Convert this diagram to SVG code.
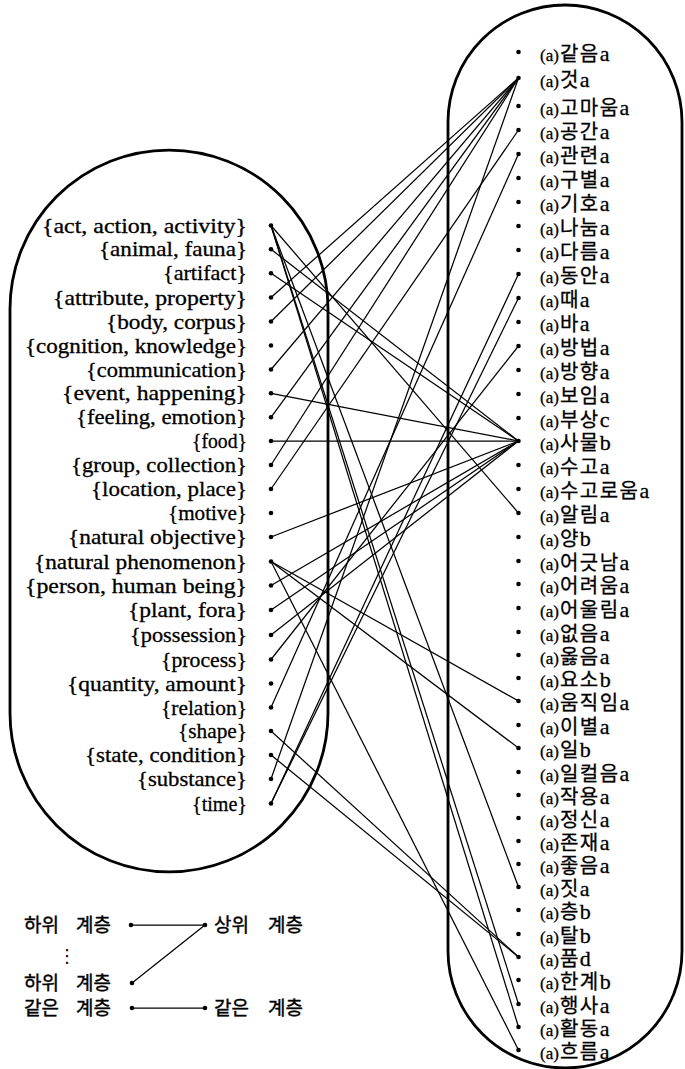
<svg xmlns="http://www.w3.org/2000/svg" width="685" height="1069" viewBox="0 0 685 1069">
<style>
.frame{fill:none;stroke:#000;stroke-width:2.8}
.lab{font-family:"Liberation Serif",serif;font-size:21px;fill:#000;stroke:#000;stroke-width:0.3}
.r{font-family:"Liberation Serif",serif;fill:#000;stroke:#000;stroke-width:0.3}
.p{font-family:"Liberation Serif",serif;font-size:17px}
.kr{font-family:"Liberation Sans","Noto Sans CJK KR",sans-serif;font-size:20px;letter-spacing:1.5px}
.s{font-family:"Liberation Serif",serif;font-size:22px}
.lg{font-family:"Liberation Sans","Noto Sans CJK KR",sans-serif;font-size:19px;fill:#000;stroke:#000;stroke-width:0.4}
.dot{fill:#000}
#connectors line,#legend line{stroke:#000;stroke-width:1.25}
</style>
<rect width="685" height="1069" fill="#fff"/>
<g id="frames">
<path id="frame-left" class="frame" d="M10,309 A159,159 0 0 1 328,309 L328,713 A159,159 0 0 1 10,713 Z"/>
<path id="frame-right" class="frame" d="M448,122 A117,117 0 0 1 682,122 L682,951 A117,117 0 0 1 448,951 Z"/>
</g>
<g id="connectors">
<line x1="271" y1="225.5" x2="518.5" y2="513"/>
<line x1="271" y1="225.5" x2="518.5" y2="887"/>
<line x1="271" y1="225.5" x2="518.5" y2="1004"/>
<line x1="271" y1="225.5" x2="518.5" y2="1027"/>
<line x1="271" y1="249.3" x2="518.5" y2="441"/>
<line x1="271" y1="273.3" x2="518.5" y2="441"/>
<line x1="271" y1="297.5" x2="518.5" y2="78"/>
<line x1="271" y1="321.5" x2="518.5" y2="78"/>
<line x1="271" y1="369.5" x2="518.5" y2="78"/>
<line x1="271" y1="393.3" x2="518.5" y2="441"/>
<line x1="271" y1="417.3" x2="518.5" y2="78"/>
<line x1="271" y1="441" x2="518.5" y2="441"/>
<line x1="271" y1="465" x2="518.5" y2="78"/>
<line x1="271" y1="489" x2="518.5" y2="130"/>
<line x1="271" y1="537" x2="518.5" y2="441"/>
<line x1="271" y1="561.5" x2="518.5" y2="701"/>
<line x1="271" y1="561.5" x2="518.5" y2="748"/>
<line x1="271" y1="561.5" x2="518.5" y2="1050"/>
<line x1="271" y1="585.5" x2="518.5" y2="441"/>
<line x1="271" y1="610" x2="518.5" y2="441"/>
<line x1="271" y1="635" x2="518.5" y2="441"/>
<line x1="271" y1="659.5" x2="518.5" y2="346"/>
<line x1="271" y1="707.5" x2="518.5" y2="154"/>
<line x1="271" y1="731" x2="518.5" y2="957"/>
<line x1="271" y1="755" x2="518.5" y2="957"/>
<line x1="271" y1="779" x2="518.5" y2="78"/>
<line x1="271" y1="803.5" x2="518.5" y2="274"/>
<line x1="271" y1="803.5" x2="518.5" y2="298"/>
</g>
<g id="left-nodes">
<g id="l-act"><text class="lab" x="42" y="232.5" textLength="205" lengthAdjust="spacingAndGlyphs">{act, action, activity}</text><circle class="dot" cx="271" cy="225.5" r="2.3"/></g>
<g id="l-animal"><text class="lab" x="99" y="256.3" textLength="148" lengthAdjust="spacingAndGlyphs">{animal, fauna}</text><circle class="dot" cx="271" cy="249.3" r="2.3"/></g>
<g id="l-artifact"><text class="lab" x="163" y="280.3" textLength="84" lengthAdjust="spacingAndGlyphs">{artifact}</text><circle class="dot" cx="271" cy="273.3" r="2.3"/></g>
<g id="l-attribute"><text class="lab" x="53" y="304.5" textLength="194" lengthAdjust="spacingAndGlyphs">{attribute, property}</text><circle class="dot" cx="271" cy="297.5" r="2.3"/></g>
<g id="l-body"><text class="lab" x="106" y="328.5" textLength="141" lengthAdjust="spacingAndGlyphs">{body, corpus}</text><circle class="dot" cx="271" cy="321.5" r="2.3"/></g>
<g id="l-cognition"><text class="lab" x="25" y="352.5" textLength="222" lengthAdjust="spacingAndGlyphs">{cognition, knowledge}</text><circle class="dot" cx="271" cy="345.5" r="2.3"/></g>
<g id="l-communication"><text class="lab" x="86" y="376.5" textLength="161" lengthAdjust="spacingAndGlyphs">{communication}</text><circle class="dot" cx="271" cy="369.5" r="2.3"/></g>
<g id="l-event"><text class="lab" x="62" y="400.3" textLength="185" lengthAdjust="spacingAndGlyphs">{event, happening}</text><circle class="dot" cx="271" cy="393.3" r="2.3"/></g>
<g id="l-feeling"><text class="lab" x="76" y="424.3" textLength="171" lengthAdjust="spacingAndGlyphs">{feeling, emotion}</text><circle class="dot" cx="271" cy="417.3" r="2.3"/></g>
<g id="l-food"><text class="lab" x="192" y="448" textLength="55" lengthAdjust="spacingAndGlyphs">{food}</text><circle class="dot" cx="271" cy="441" r="2.3"/></g>
<g id="l-group"><text class="lab" x="71" y="472" textLength="176" lengthAdjust="spacingAndGlyphs">{group, collection}</text><circle class="dot" cx="271" cy="465" r="2.3"/></g>
<g id="l-location"><text class="lab" x="91" y="496" textLength="156" lengthAdjust="spacingAndGlyphs">{location, place}</text><circle class="dot" cx="271" cy="489" r="2.3"/></g>
<g id="l-motive"><text class="lab" x="168" y="520" textLength="79" lengthAdjust="spacingAndGlyphs">{motive}</text><circle class="dot" cx="271" cy="513" r="2.3"/></g>
<g id="l-natobj"><text class="lab" x="68" y="544" textLength="179" lengthAdjust="spacingAndGlyphs">{natural objective}</text><circle class="dot" cx="271" cy="537" r="2.3"/></g>
<g id="l-natphen"><text class="lab" x="34" y="568.5" textLength="213" lengthAdjust="spacingAndGlyphs">{natural phenomenon}</text><circle class="dot" cx="271" cy="561.5" r="2.3"/></g>
<g id="l-person"><text class="lab" x="25" y="592.5" textLength="222" lengthAdjust="spacingAndGlyphs">{person, human being}</text><circle class="dot" cx="271" cy="585.5" r="2.3"/></g>
<g id="l-plant"><text class="lab" x="128" y="617" textLength="119" lengthAdjust="spacingAndGlyphs">{plant, fora}</text><circle class="dot" cx="271" cy="610" r="2.3"/></g>
<g id="l-possession"><text class="lab" x="130" y="642" textLength="117" lengthAdjust="spacingAndGlyphs">{possession}</text><circle class="dot" cx="271" cy="635" r="2.3"/></g>
<g id="l-process"><text class="lab" x="161" y="666.5" textLength="86" lengthAdjust="spacingAndGlyphs">{process}</text><circle class="dot" cx="271" cy="659.5" r="2.3"/></g>
<g id="l-quantity"><text class="lab" x="67" y="690.5" textLength="180" lengthAdjust="spacingAndGlyphs">{quantity, amount}</text><circle class="dot" cx="271" cy="683.5" r="2.3"/></g>
<g id="l-relation"><text class="lab" x="161" y="714.5" textLength="86" lengthAdjust="spacingAndGlyphs">{relation}</text><circle class="dot" cx="271" cy="707.5" r="2.3"/></g>
<g id="l-shape"><text class="lab" x="178" y="738" textLength="69" lengthAdjust="spacingAndGlyphs">{shape}</text><circle class="dot" cx="271" cy="731" r="2.3"/></g>
<g id="l-state"><text class="lab" x="85" y="762" textLength="162" lengthAdjust="spacingAndGlyphs">{state, condition}</text><circle class="dot" cx="271" cy="755" r="2.3"/></g>
<g id="l-substance"><text class="lab" x="137" y="786" textLength="110" lengthAdjust="spacingAndGlyphs">{substance}</text><circle class="dot" cx="271" cy="779" r="2.3"/></g>
<g id="l-time"><text class="lab" x="192" y="810.5" textLength="55" lengthAdjust="spacingAndGlyphs">{time}</text><circle class="dot" cx="271" cy="803.5" r="2.3"/></g>
</g>
<g id="right-nodes">
<g id="r00"><circle class="dot" cx="518.5" cy="52" r="2.3"/><text class="r" x="540" y="61"><tspan class="p">(a)</tspan><tspan class="kr" dx="1">같음</tspan><tspan class="s">a</tspan></text></g>
<g id="r01"><circle class="dot" cx="518.5" cy="78" r="2.3"/><text class="r" x="540" y="87"><tspan class="p">(a)</tspan><tspan class="kr" dx="1">것</tspan><tspan class="s">a</tspan></text></g>
<g id="r02"><circle class="dot" cx="518.5" cy="106" r="2.3"/><text class="r" x="540" y="115"><tspan class="p">(a)</tspan><tspan class="kr" dx="1">고마움</tspan><tspan class="s">a</tspan></text></g>
<g id="r03"><circle class="dot" cx="518.5" cy="130" r="2.3"/><text class="r" x="540" y="139"><tspan class="p">(a)</tspan><tspan class="kr" dx="1">공간</tspan><tspan class="s">a</tspan></text></g>
<g id="r04"><circle class="dot" cx="518.5" cy="154" r="2.3"/><text class="r" x="540" y="163"><tspan class="p">(a)</tspan><tspan class="kr" dx="1">관련</tspan><tspan class="s">a</tspan></text></g>
<g id="r05"><circle class="dot" cx="518.5" cy="178" r="2.3"/><text class="r" x="540" y="187"><tspan class="p">(a)</tspan><tspan class="kr" dx="1">구별</tspan><tspan class="s">a</tspan></text></g>
<g id="r06"><circle class="dot" cx="518.5" cy="202" r="2.3"/><text class="r" x="540" y="211"><tspan class="p">(a)</tspan><tspan class="kr" dx="1">기호</tspan><tspan class="s">a</tspan></text></g>
<g id="r07"><circle class="dot" cx="518.5" cy="226" r="2.3"/><text class="r" x="540" y="235"><tspan class="p">(a)</tspan><tspan class="kr" dx="1">나눔</tspan><tspan class="s">a</tspan></text></g>
<g id="r08"><circle class="dot" cx="518.5" cy="250" r="2.3"/><text class="r" x="540" y="259"><tspan class="p">(a)</tspan><tspan class="kr" dx="1">다름</tspan><tspan class="s">a</tspan></text></g>
<g id="r09"><circle class="dot" cx="518.5" cy="274" r="2.3"/><text class="r" x="540" y="283"><tspan class="p">(a)</tspan><tspan class="kr" dx="1">동안</tspan><tspan class="s">a</tspan></text></g>
<g id="r10"><circle class="dot" cx="518.5" cy="298" r="2.3"/><text class="r" x="540" y="307"><tspan class="p">(a)</tspan><tspan class="kr" dx="1">때</tspan><tspan class="s">a</tspan></text></g>
<g id="r11"><circle class="dot" cx="518.5" cy="322" r="2.3"/><text class="r" x="540" y="331"><tspan class="p">(a)</tspan><tspan class="kr" dx="1">바</tspan><tspan class="s">a</tspan></text></g>
<g id="r12"><circle class="dot" cx="518.5" cy="346" r="2.3"/><text class="r" x="540" y="355"><tspan class="p">(a)</tspan><tspan class="kr" dx="1">방법</tspan><tspan class="s">a</tspan></text></g>
<g id="r13"><circle class="dot" cx="518.5" cy="370" r="2.3"/><text class="r" x="540" y="379"><tspan class="p">(a)</tspan><tspan class="kr" dx="1">방향</tspan><tspan class="s">a</tspan></text></g>
<g id="r14"><circle class="dot" cx="518.5" cy="394" r="2.3"/><text class="r" x="540" y="403"><tspan class="p">(a)</tspan><tspan class="kr" dx="1">보임</tspan><tspan class="s">a</tspan></text></g>
<g id="r15"><circle class="dot" cx="518.5" cy="418" r="2.3"/><text class="r" x="540" y="427"><tspan class="p">(a)</tspan><tspan class="kr" dx="1">부상</tspan><tspan class="s">c</tspan></text></g>
<g id="r16"><circle class="dot" cx="518.5" cy="441" r="2.3"/><text class="r" x="540" y="450"><tspan class="p">(a)</tspan><tspan class="kr" dx="1">사물</tspan><tspan class="s">b</tspan></text></g>
<g id="r17"><circle class="dot" cx="518.5" cy="465" r="2.3"/><text class="r" x="540" y="474"><tspan class="p">(a)</tspan><tspan class="kr" dx="1">수고</tspan><tspan class="s">a</tspan></text></g>
<g id="r18"><circle class="dot" cx="518.5" cy="489" r="2.3"/><text class="r" x="540" y="498"><tspan class="p">(a)</tspan><tspan class="kr" dx="1">수고로움</tspan><tspan class="s">a</tspan></text></g>
<g id="r19"><circle class="dot" cx="518.5" cy="513" r="2.3"/><text class="r" x="540" y="522"><tspan class="p">(a)</tspan><tspan class="kr" dx="1">알림</tspan><tspan class="s">a</tspan></text></g>
<g id="r20"><circle class="dot" cx="518.5" cy="537" r="2.3"/><text class="r" x="540" y="546"><tspan class="p">(a)</tspan><tspan class="kr" dx="1">양</tspan><tspan class="s">b</tspan></text></g>
<g id="r21"><circle class="dot" cx="518.5" cy="561" r="2.3"/><text class="r" x="540" y="570"><tspan class="p">(a)</tspan><tspan class="kr" dx="1">어긋남</tspan><tspan class="s">a</tspan></text></g>
<g id="r22"><circle class="dot" cx="518.5" cy="584" r="2.3"/><text class="r" x="540" y="593"><tspan class="p">(a)</tspan><tspan class="kr" dx="1">어려움</tspan><tspan class="s">a</tspan></text></g>
<g id="r23"><circle class="dot" cx="518.5" cy="608" r="2.3"/><text class="r" x="540" y="617"><tspan class="p">(a)</tspan><tspan class="kr" dx="1">어울림</tspan><tspan class="s">a</tspan></text></g>
<g id="r24"><circle class="dot" cx="518.5" cy="632" r="2.3"/><text class="r" x="540" y="641"><tspan class="p">(a)</tspan><tspan class="kr" dx="1">없음</tspan><tspan class="s">a</tspan></text></g>
<g id="r25"><circle class="dot" cx="518.5" cy="655" r="2.3"/><text class="r" x="540" y="664"><tspan class="p">(a)</tspan><tspan class="kr" dx="1">옳음</tspan><tspan class="s">a</tspan></text></g>
<g id="r26"><circle class="dot" cx="518.5" cy="678" r="2.3"/><text class="r" x="540" y="687"><tspan class="p">(a)</tspan><tspan class="kr" dx="1">요소</tspan><tspan class="s">b</tspan></text></g>
<g id="r27"><circle class="dot" cx="518.5" cy="701" r="2.3"/><text class="r" x="540" y="710"><tspan class="p">(a)</tspan><tspan class="kr" dx="1">움직임</tspan><tspan class="s">a</tspan></text></g>
<g id="r28"><circle class="dot" cx="518.5" cy="725" r="2.3"/><text class="r" x="540" y="734"><tspan class="p">(a)</tspan><tspan class="kr" dx="1">이별</tspan><tspan class="s">a</tspan></text></g>
<g id="r29"><circle class="dot" cx="518.5" cy="748" r="2.3"/><text class="r" x="540" y="757"><tspan class="p">(a)</tspan><tspan class="kr" dx="1">일</tspan><tspan class="s">b</tspan></text></g>
<g id="r30"><circle class="dot" cx="518.5" cy="772" r="2.3"/><text class="r" x="540" y="781"><tspan class="p">(a)</tspan><tspan class="kr" dx="1">일컬음</tspan><tspan class="s">a</tspan></text></g>
<g id="r31"><circle class="dot" cx="518.5" cy="795" r="2.3"/><text class="r" x="540" y="804"><tspan class="p">(a)</tspan><tspan class="kr" dx="1">작용</tspan><tspan class="s">a</tspan></text></g>
<g id="r32"><circle class="dot" cx="518.5" cy="818" r="2.3"/><text class="r" x="540" y="827"><tspan class="p">(a)</tspan><tspan class="kr" dx="1">정신</tspan><tspan class="s">a</tspan></text></g>
<g id="r33"><circle class="dot" cx="518.5" cy="841" r="2.3"/><text class="r" x="540" y="850"><tspan class="p">(a)</tspan><tspan class="kr" dx="1">존재</tspan><tspan class="s">a</tspan></text></g>
<g id="r34"><circle class="dot" cx="518.5" cy="864" r="2.3"/><text class="r" x="540" y="873"><tspan class="p">(a)</tspan><tspan class="kr" dx="1">좋음</tspan><tspan class="s">a</tspan></text></g>
<g id="r35"><circle class="dot" cx="518.5" cy="887" r="2.3"/><text class="r" x="540" y="896"><tspan class="p">(a)</tspan><tspan class="kr" dx="1">짓</tspan><tspan class="s">a</tspan></text></g>
<g id="r36"><circle class="dot" cx="518.5" cy="910" r="2.3"/><text class="r" x="540" y="919"><tspan class="p">(a)</tspan><tspan class="kr" dx="1">층</tspan><tspan class="s">b</tspan></text></g>
<g id="r37"><circle class="dot" cx="518.5" cy="934" r="2.3"/><text class="r" x="540" y="943"><tspan class="p">(a)</tspan><tspan class="kr" dx="1">탈</tspan><tspan class="s">b</tspan></text></g>
<g id="r38"><circle class="dot" cx="518.5" cy="957" r="2.3"/><text class="r" x="540" y="966"><tspan class="p">(a)</tspan><tspan class="kr" dx="1">품</tspan><tspan class="s">d</tspan></text></g>
<g id="r39"><circle class="dot" cx="518.5" cy="980" r="2.3"/><text class="r" x="540" y="989"><tspan class="p">(a)</tspan><tspan class="kr" dx="1">한계</tspan><tspan class="s">b</tspan></text></g>
<g id="r40"><circle class="dot" cx="518.5" cy="1004" r="2.3"/><text class="r" x="540" y="1013"><tspan class="p">(a)</tspan><tspan class="kr" dx="1">행사</tspan><tspan class="s">a</tspan></text></g>
<g id="r41"><circle class="dot" cx="518.5" cy="1027" r="2.3"/><text class="r" x="540" y="1036"><tspan class="p">(a)</tspan><tspan class="kr" dx="1">활동</tspan><tspan class="s">a</tspan></text></g>
<g id="r42"><circle class="dot" cx="518.5" cy="1050" r="2.3"/><text class="r" x="540" y="1059"><tspan class="p">(a)</tspan><tspan class="kr" dx="1">흐름</tspan><tspan class="s">a</tspan></text></g>
</g>
<g id="legend">
<line x1="131" y1="925" x2="205" y2="925"/>
<line x1="132" y1="983" x2="205" y2="925"/>
<line x1="132" y1="1008" x2="205" y2="1008"/>
<circle class="dot" cx="131" cy="925" r="2.3"/>
<circle class="dot" cx="205" cy="925" r="2.3"/>
<circle class="dot" cx="132" cy="983" r="2.3"/>
<circle class="dot" cx="132" cy="1008" r="2.3"/>
<circle class="dot" cx="205" cy="1008" r="2.3"/>
<text class="lg" y="932"><tspan x="24">하위 </tspan><tspan x="76">계층</tspan></text>
<text class="lg" y="932"><tspan x="214">상위 </tspan><tspan x="268">계층</tspan></text>
<text x="67" y="962" text-anchor="middle" font-family="DejaVu Sans,sans-serif" font-size="18">⋮</text>
<text class="lg" y="990"><tspan x="24">하위 </tspan><tspan x="76">계층</tspan></text>
<text class="lg" y="1015"><tspan x="24">같은 </tspan><tspan x="76">계층</tspan></text>
<text class="lg" y="1015"><tspan x="214">같은 </tspan><tspan x="268">계층</tspan></text>
</g>
</svg>
